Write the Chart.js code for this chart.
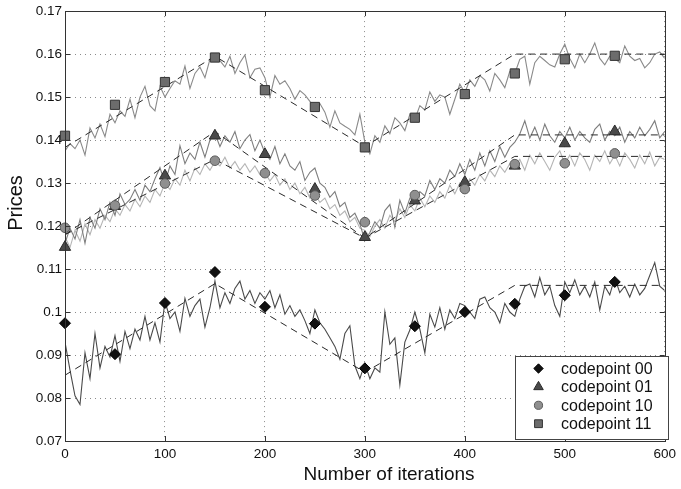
<!DOCTYPE html>
<html>
<head>
<meta charset="utf-8">
<script src="https://cdn.jsdelivr.net/npm/chart.js@4/dist/chart.umd.min.js"></script>
<style>
  html, body { margin: 0; padding: 0; background: #fff; }
  #wrap { width: 681px; height: 489px; }
</style>
</head>
<body>
<div id="wrap"><canvas id="c" width="681" height="489"></canvas></div>
<script>
// Axis ticks
const xTicks = [0, 100, 200, 300, 400, 500, 600];
const yTicks = [0.07, 0.08, 0.09, 0.10, 0.11, 0.12, 0.13, 0.14, 0.15, 0.16, 0.17];
const yTickLabels = ['0.07', '0.08', '0.09', '0.1', '0.11', '0.12', '0.13', '0.14', '0.15', '0.16', '0.17'];

// Sampled iterations for the simulated price paths
const noiseIters = [0,5,10,15,20,25,30,35,40,45,50,55,60,65,70,75,80,85,90,95,
  100,105,110,115,120,125,130,135,140,145,150,155,160,165,170,175,180,185,190,195,
  200,205,210,215,220,225,230,235,240,245,250,255,260,265,270,275,280,285,290,295,
  300,305,310,315,320,325,330,335,340,345,350,355,360,365,370,375,380,385,390,395,
  400,405,410,415,420,425,430,435,440,445,450,455,460,465,470,475,480,485,490,495,
  500,505,510,515,520,525,530,535,540,545,550,555,560,565,570,575,580,585,590,595,600];

const price00 = [0.0930,0.0865,0.0805,0.0785,0.0905,0.0845,0.0950,0.0870,0.0920,0.0895,
  0.0945,0.0885,0.0955,0.0915,0.0960,0.0935,0.0990,0.0935,0.0975,0.0930,
  0.1025,0.0985,0.1000,0.0955,0.1032,0.0990,0.1015,0.1030,0.0965,0.1010,
  0.1072,0.1010,0.1045,0.1020,0.1055,0.1072,0.1030,0.1050,0.1020,0.1045,
  0.1030,0.1050,0.1010,0.1040,0.0995,0.1015,0.0990,0.1005,0.0980,0.0950,
  0.1005,0.0975,0.0960,0.0940,0.0920,0.0890,0.0950,0.0968,0.0875,0.0845,
  0.0880,0.0845,0.0870,0.0860,0.1000,0.0925,0.0940,0.0830,0.0930,0.0958,
  0.1000,0.0960,0.0905,0.0995,0.0965,0.1010,0.0960,0.1005,0.0985,0.1020,
  0.1015,0.1000,0.0985,0.1030,0.1035,0.1010,0.1000,0.0975,0.1020,0.1000,
  0.0990,0.1030,0.1060,0.1065,0.1035,0.1080,0.1040,0.1060,0.1015,0.0990,
  0.1070,0.1045,0.1075,0.1040,0.1060,0.1035,0.1070,0.1005,0.1060,0.1040,
  0.1080,0.1045,0.1060,0.1035,0.1065,0.1040,0.1055,0.1085,0.1115,0.1060,0.1050];

const price01 = [0.1160,0.1195,0.1170,0.1215,0.1160,0.1220,0.1195,0.1240,0.1215,0.1255,
  0.1225,0.1275,0.1250,0.1262,0.1285,0.1260,0.1295,0.1280,0.1310,0.1336,
  0.1300,0.1340,0.1320,0.1387,0.1345,0.1370,0.1355,0.1395,0.1360,0.1400,
  0.1415,0.1385,0.1410,0.1395,0.1420,0.1380,0.1400,0.1413,0.1375,0.1400,
  0.1370,0.1355,0.1385,0.1345,0.1368,0.1340,0.1330,0.1350,0.1306,0.1325,
  0.1335,0.1300,0.1290,0.1267,0.1280,0.1245,0.1255,0.1220,0.1230,0.1205,
  0.1166,0.1185,0.1210,0.1195,0.1236,0.1250,0.1197,0.1260,0.1230,0.1265,
  0.1255,0.1280,0.1270,0.1306,0.1285,0.1310,0.1300,0.1330,0.1315,0.1345,
  0.1320,0.1355,0.1330,0.1370,0.1340,0.1375,0.1350,0.1385,0.1360,0.1383,
  0.1395,0.1414,0.1445,0.1405,0.1430,0.1400,0.1437,0.1410,0.1395,0.1420,
  0.1405,0.1430,0.1400,0.1420,0.1405,0.1395,0.1425,0.1437,0.1400,0.1420,
  0.1410,0.1430,0.1395,0.1420,0.1405,0.1430,0.1410,0.1425,0.1445,0.1405,0.1420];

const price10 = [0.1175,0.1150,0.1190,0.1165,0.1205,0.1180,0.1215,0.1195,0.1225,0.1210,
  0.1240,0.1225,0.1250,0.1235,0.1262,0.1245,0.1270,0.1255,0.1285,0.1270,
  0.1300,0.1285,0.1310,0.1295,0.1330,0.1305,0.1335,0.1320,0.1345,0.1330,
  0.1350,0.1340,0.1360,0.1335,0.1350,0.1330,0.1345,0.1325,0.1340,0.1320,
  0.1325,0.1305,0.1320,0.1295,0.1310,0.1285,0.1300,0.1275,0.1290,0.1265,
  0.1275,0.1255,0.1265,0.1240,0.1250,0.1225,0.1235,0.1210,0.1220,0.1195,
  0.1190,0.1175,0.1200,0.1215,0.1195,0.1225,0.1210,0.1240,0.1220,0.1250,
  0.1235,0.1265,0.1245,0.1270,0.1255,0.1280,0.1265,0.1295,0.1275,0.1300,
  0.1285,0.1310,0.1295,0.1320,0.1305,0.1330,0.1315,0.1340,0.1325,0.1345,
  0.1340,0.1355,0.1330,0.1365,0.1345,0.1370,0.1350,0.1330,0.1360,0.1375,
  0.1345,0.1365,0.1340,0.1370,0.1355,0.1330,0.1365,0.1350,0.1375,0.1345,
  0.1365,0.1340,0.1370,0.1355,0.1335,0.1365,0.1345,0.1372,0.1340,0.1360,0.1355];

const price11 = [0.1375,0.1392,0.1380,0.1400,0.1365,0.1428,0.1405,0.1437,0.1408,0.1460,
  0.1440,0.1468,0.1455,0.1495,0.1452,0.1500,0.1525,0.1480,0.1468,0.1525,
  0.1500,0.1520,0.1538,0.1530,0.1572,0.1520,0.1555,0.1570,0.1545,0.1588,
  0.1600,0.1585,0.1570,0.1595,0.1555,0.1580,0.1598,0.1545,0.1565,0.1568,
  0.1545,0.1500,0.1550,0.1530,0.1538,0.1520,0.1495,0.1515,0.1505,0.1490,
  0.1475,0.1485,0.1465,0.1430,0.1468,0.1440,0.1432,0.1425,0.1412,0.1460,
  0.1395,0.1368,0.1410,0.1395,0.1433,0.1415,0.1452,0.1440,0.1422,0.1460,
  0.1448,0.1480,0.1470,0.1512,0.1490,0.1505,0.1500,0.1460,0.1495,0.1530,
  0.1510,0.1540,0.1525,0.1550,0.1540,0.1514,0.1555,0.1540,0.1522,0.1560,
  0.1555,0.1588,0.1595,0.1530,0.1580,0.1595,0.1585,0.1575,0.1570,0.1600,
  0.1623,0.1590,0.1568,0.1600,0.1580,0.1600,0.1626,0.1590,0.1575,0.1595,
  0.1590,0.1580,0.1619,0.1595,0.1585,0.1590,0.1568,0.1580,0.1600,0.1605,0.1590];

// Reference price trends (dashed)
const trendIters = [0, 150, 300, 450, 600];
const trend00 = [0.0853, 0.1066, 0.0860, 0.1062, 0.1062];
const trend01 = [0.1180, 0.1420, 0.1172, 0.1412, 0.1412];
const trend10 = [0.1180, 0.1355, 0.1172, 0.1362, 0.1362];
const trend11 = [0.1383, 0.1595, 0.1385, 0.1600, 0.1600];

// Codepoint markers every 50 iterations
const markerIters = [0, 50, 100, 150, 200, 250, 300, 350, 400, 450, 500, 550];
const mark00 = [0.0974, 0.0902, 0.1021, 0.1093, 0.1012, 0.0973, 0.0869, 0.0967, 0.1000, 0.1019, 0.1039, 0.1070];
const mark01 = [0.1151, 0.1246, 0.1317, 0.1410, 0.1367, 0.1286, 0.1174, 0.1259, 0.1302, 0.1340, 0.1392, 0.1420];
const mark10 = [0.1196, 0.1248, 0.1299, 0.1352, 0.1323, 0.1271, 0.1209, 0.1272, 0.1286, 0.1344, 0.1346, 0.1369];
const mark11 = [0.1410, 0.1482, 0.1535, 0.1592, 0.1516, 0.1477, 0.1383, 0.1452, 0.1507, 0.1555, 0.1588, 0.1596];

const legendLabels = ['codepoint 00', 'codepoint 01', 'codepoint 10', 'codepoint 11'];

const FONT = '"Liberation Sans", Arial, Helvetica, sans-serif';
Chart.defaults.font.family = FONT;
Chart.defaults.color = '#111';

const pts = (xs, ys) => xs.map((x, i) => ({ x: x, y: ys[i] }));

function pathSet(ys, color, order) {
  return { type: 'line', data: pts(noiseIters, ys), borderColor: color, borderWidth: 1.1,
           pointRadius: 0, tension: 0, fill: false, order: order };
}
function trendSet(ys, order) {
  return { type: 'line', data: pts(trendIters, ys), borderColor: '#2a2a2a', borderWidth: 1,
           borderDash: [7, 5], pointRadius: 0, tension: 0, fill: false, order: order };
}
const markerStyles = [
  { pointStyle: 'rectRot', radius: 5.5, bg: '#111111', border: '#000000' },
  { pointStyle: 'triangle', radius: 6.5, bg: '#4a4a4a', border: '#2a2a2a' },
  { pointStyle: 'circle', radius: 4.8, bg: '#8f8f8f', border: '#5a5a5a' },
  { pointStyle: 'rect', radius: 6.5, bg: '#6c6c6c', border: '#333333' }
];
function markSet(ys, k, order) {
  const s = markerStyles[k];
  return { type: 'line', data: pts(markerIters, ys), showLine: false, pointStyle: s.pointStyle,
           pointRadius: s.radius, pointBackgroundColor: s.bg, pointBorderColor: s.border,
           pointBorderWidth: 1, order: order, clip: false };
}

// Plot frame with inward tick marks, axis titles and the legend box
const decorations = {
  id: 'decorations',
  afterDraw(chart) {
    const ctx = chart.ctx, a = chart.chartArea;
    const xs = chart.scales.x, ys = chart.scales.y;
    ctx.save();
    ctx.strokeStyle = '#333';
    ctx.lineWidth = 1;
    ctx.strokeRect(Math.round(a.left) + 0.5, Math.round(a.top) + 0.5,
                   Math.round(a.right - a.left), Math.round(a.bottom - a.top));
    ctx.beginPath();
    xTicks.forEach(v => {
      const px = Math.round(xs.getPixelForValue(v)) + 0.5;
      ctx.moveTo(px, a.bottom); ctx.lineTo(px, a.bottom - 5);
      ctx.moveTo(px, a.top); ctx.lineTo(px, a.top + 5);
    });
    yTicks.forEach(v => {
      const py = Math.round(ys.getPixelForValue(v)) + 0.5;
      ctx.moveTo(a.left, py); ctx.lineTo(a.left + 5, py);
      ctx.moveTo(a.right, py); ctx.lineTo(a.right - 5, py);
    });
    ctx.stroke();

    // axis titles
    ctx.fillStyle = '#111';
    ctx.font = '19px ' + FONT;
    ctx.textAlign = 'center';
    ctx.textBaseline = 'alphabetic';
    ctx.fillText('Number of iterations', 389, 480);
    ctx.save();
    ctx.translate(22, 203);
    ctx.rotate(-Math.PI / 2);
    ctx.font = '20px ' + FONT;
    ctx.fillText('Prices', 0, 0);
    ctx.restore();

    // legend
    const bx = 515.5, by = 356.5, bw = 153, bh = 83;
    ctx.fillStyle = '#fff';
    ctx.fillRect(bx, by, bw, bh);
    ctx.strokeStyle = '#444';
    ctx.strokeRect(bx, by, bw, bh);
    ctx.font = '16px ' + FONT;
    ctx.textAlign = 'left';
    ctx.textBaseline = 'middle';
    legendLabels.forEach((lab, i) => {
      const cy = 368.5 + i * 18.4;
      const s = markerStyles[i];
      ctx.fillStyle = s.bg;
      ctx.strokeStyle = s.border;
      ctx.lineWidth = 1;
      Chart.helpers.drawPoint(ctx, { pointStyle: s.pointStyle, radius: s.radius * 0.85,
                                     borderWidth: 1, rotation: 0 }, 538.5, cy);
      ctx.fillStyle = '#111';
      ctx.fillText(lab, 561, cy + 1);
    });
    ctx.restore();
  }
};

new Chart(document.getElementById('c'), {
  type: 'line',
  data: {
    datasets: [
      pathSet(price10, '#b5b5b5', 40),
      pathSet(price01, '#7e7e7e', 39),
      pathSet(price11, '#8a8a8a', 38),
      pathSet(price00, '#4a4a4a', 37),
      trendSet(trend00, 20),
      trendSet(trend01, 20),
      trendSet(trend10, 20),
      trendSet(trend11, 20),
      markSet(mark00, 0, 4),
      markSet(mark01, 1, 3),
      markSet(mark10, 2, 2),
      markSet(mark11, 3, 1)
    ]
  },
  options: {
    responsive: false,
    animation: false,
    events: [],
    layout: { padding: { top: 10, right: 11, left: 0, bottom: 0 } },
    plugins: { legend: { display: false }, tooltip: { enabled: false } },
    scales: {
      x: {
        type: 'linear', min: 0, max: 600,
        afterBuildTicks: s => { s.ticks = xTicks.map(v => ({ value: v })); },
        afterFit: s => { s.height = 48; },
        ticks: { font: { size: 13.5 }, color: '#111', padding: 5, maxRotation: 0 },
        grid: { color: '#8a8a8a', lineWidth: 1, drawTicks: false },
        border: { display: false, dash: [1, 4] }
      },
      y: {
        type: 'linear', min: 0.07, max: 0.17,
        afterBuildTicks: s => { s.ticks = yTicks.map(v => ({ value: v })); },
        afterFit: s => { s.width = 65; },
        ticks: { font: { size: 13.5 }, color: '#111', padding: 3,
                 callback: (v, i) => yTickLabels[i] },
        grid: { color: '#8a8a8a', lineWidth: 1, drawTicks: false },
        border: { display: false, dash: [1, 4] }
      }
    }
  },
  plugins: [decorations]
});
</script>
</body>
</html>
